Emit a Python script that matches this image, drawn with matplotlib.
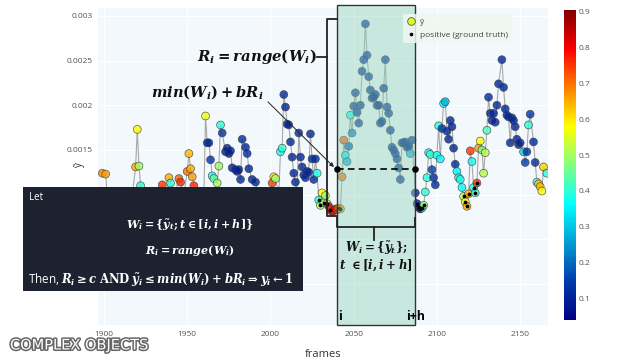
import numpy as np
import matplotlib
matplotlib.use("Agg")
import matplotlib.pyplot as plt
from matplotlib.colors import LinearSegmentedColormap, Normalize
from matplotlib.lines import Line2D
from matplotlib.patches import Rectangle
from matplotlib import patheffects as pe
import matplotlib.transforms as mtrans

# ---- data (y values in units of 1e-3) ----
frames = [1899, 1901, 1902, 1905, 1909, 1913, 1917, 1919, 1920, 1921, 1922, 1924, 1927, 1930, 1933,
          1935, 1937, 1939, 1940, 1942, 1945, 1946, 1948, 1950, 1951, 1952, 1953, 1954, 1956, 1959,
          1960, 1961, 1962, 1963, 1964, 1965, 1966, 1968, 1969, 1970, 1971, 1973, 1974, 1975, 1976,
          1977, 1979, 1980, 1981, 1982, 1983, 1985, 1986, 1987, 1989, 1991, 1993, 1996, 1999, 2001,
          2002, 2003, 2005, 2006, 2007, 2008, 2009, 2010, 2011, 2012, 2013, 2014, 2015, 2016, 2017,
          2018, 2019, 2020, 2021, 2022, 2023, 2024, 2025, 2026, 2027, 2028, 2029, 2030, 2031, 2032,
          2033, 2034, 2035, 2036, 2037, 2038, 2039, 2040, 2041, 2042, 2043, 2044, 2045, 2046, 2047,
          2048, 2049, 2050, 2051, 2052, 2053, 2054, 2055, 2056, 2057, 2058, 2059, 2060, 2061, 2062,
          2063, 2064, 2065, 2066, 2067, 2068, 2069, 2070, 2071, 2072, 2073, 2074, 2075, 2076, 2077,
          2078, 2079, 2080, 2081, 2082, 2083, 2084, 2085, 2087, 2088, 2089, 2090, 2091, 2092, 2093,
          2094, 2095, 2096, 2097, 2098, 2099, 2100, 2101, 2102, 2103, 2104, 2105, 2106, 2107, 2108,
          2109, 2110, 2111, 2112, 2113, 2114, 2115, 2116, 2117, 2118, 2119, 2120, 2121, 2122, 2123,
          2124, 2125, 2126, 2127, 2128, 2129, 2130, 2131, 2132, 2133, 2134, 2135, 2136, 2137, 2139,
          2140, 2141, 2142, 2143, 2144, 2145, 2146, 2147, 2148, 2149, 2150, 2152, 2153, 2154, 2155,
          2156, 2158, 2159, 2160, 2161, 2162, 2163, 2164, 2166]

y_milli = [1.24, 1.23, 0.98, 0.93, 0.97, 0.95, 1.00, 1.31, 1.73, 1.32, 1.10, 0.95, 0.92, 0.98, 1.00,
           1.11, 0.99, 1.19, 1.13, 0.97, 1.18, 1.14, 1.00, 1.26, 1.46, 1.29, 1.20, 1.10, 0.95, 0.98,
           0.98, 1.88, 1.58, 1.58, 1.39, 1.21, 1.18, 1.13, 1.32, 1.78, 1.69, 1.48, 1.52, 1.46, 1.49,
           1.30, 1.28, 1.26, 1.28, 1.17, 1.62, 1.53, 1.46, 1.29, 1.17, 1.14, 1.00, 1.02, 0.98, 1.13,
           1.20, 1.18, 1.00, 1.48, 1.52, 2.12, 1.98, 1.79, 1.78, 1.59, 1.42, 1.24, 1.14, 1.00, 1.69,
           1.42, 1.31, 1.22, 1.19, 1.26, 1.25, 1.68, 1.40, 1.17, 1.40, 1.24, 0.94, 0.88, 1.02, 0.91,
           0.99, 0.90, 0.87, 0.83, 0.81, 0.82, 0.84, 0.83, 0.85, 0.84, 1.20, 1.61, 1.44, 1.37, 1.54,
           1.89, 1.69, 1.99, 2.14, 1.92, 1.80, 2.00, 2.38, 2.51, 2.91, 2.56, 2.32, 2.17, 2.08, 2.09,
           2.12, 2.00, 2.00, 1.80, 1.82, 2.19, 2.51, 1.98, 1.91, 1.72, 1.53, 1.50, 1.46, 1.40, 1.30,
           1.17, 1.58, 1.58, 1.59, 1.53, 1.54, 1.46, 1.61, 1.02, 0.90, 0.86, 0.84, 0.85, 0.88, 1.03,
           1.19, 1.47, 1.45, 1.28, 1.19, 1.11, 1.44, 1.77, 1.40, 1.74, 2.02, 2.04, 1.71, 1.62, 1.83,
           1.76, 1.52, 1.34, 1.26, 1.19, 1.17, 1.08, 0.98, 0.92, 0.87, 1.01, 1.49, 1.37, 1.08, 1.02,
           1.13, 1.52, 1.60, 1.50, 1.24, 1.47, 1.72, 2.09, 1.91, 1.83, 1.91, 1.81, 2.00, 2.24, 2.51,
           2.20, 1.96, 1.89, 1.87, 1.58, 1.86, 1.83, 1.76, 1.62, 1.56, 1.58, 1.48, 1.36, 1.48, 1.78,
           1.90, 1.59, 1.36, 1.14, 1.12, 1.09, 1.04, 1.31, 1.24]

probs = [0.68, 0.66, 0.70, 0.72, 0.66, 0.70, 0.64, 0.65, 0.58, 0.50, 0.40, 0.45, 0.70, 0.68, 0.72,
         0.75, 0.70, 0.65, 0.40, 0.60, 0.72, 0.76, 0.70, 0.70, 0.64, 0.65, 0.66, 0.76, 0.70, 0.65,
         0.60, 0.57, 0.12, 0.12, 0.13, 0.38, 0.44, 0.50, 0.50, 0.40, 0.13, 0.10, 0.10, 0.09, 0.10,
         0.11, 0.10, 0.09, 0.10, 0.11, 0.12, 0.11, 0.12, 0.11, 0.11, 0.11, 0.12, 0.11, 0.12, 0.74,
         0.60, 0.50, 0.40, 0.38, 0.40, 0.12, 0.11, 0.10, 0.11, 0.11, 0.11, 0.11, 0.11, 0.11, 0.11,
         0.11, 0.11, 0.10, 0.11, 0.11, 0.11, 0.11, 0.12, 0.11, 0.12, 0.38, 0.38, 0.52, 0.58, 0.50,
         0.50, 0.50, 0.82, 0.75, 0.85, 0.78, 0.80, 0.76, 0.68, 0.66, 0.70, 0.72, 0.35, 0.28, 0.18,
         0.38, 0.22, 0.13, 0.13, 0.13, 0.13, 0.13, 0.13, 0.13, 0.13, 0.13, 0.13, 0.13, 0.13, 0.12,
         0.12, 0.13, 0.13, 0.13, 0.13, 0.13, 0.13, 0.13, 0.13, 0.13, 0.13, 0.13, 0.13, 0.12, 0.13,
         0.13, 0.12, 0.12, 0.13, 0.12, 0.12, 0.28, 0.13, 0.10, 0.07, 0.06, 0.06, 0.38, 0.48, 0.40,
         0.40, 0.38, 0.40, 0.15, 0.13, 0.12, 0.38, 0.38, 0.36, 0.13, 0.36, 0.28, 0.12, 0.11, 0.11,
         0.11, 0.11, 0.12, 0.36, 0.38, 0.38, 0.37, 0.52, 0.58, 0.65, 0.65, 0.75, 0.38, 0.38, 0.40,
         0.75, 0.66, 0.58, 0.46, 0.52, 0.52, 0.42, 0.12, 0.11, 0.11, 0.11, 0.11, 0.11, 0.11, 0.11,
         0.11, 0.11, 0.11, 0.11, 0.11, 0.11, 0.11, 0.11, 0.11, 0.11, 0.11, 0.32, 0.15, 0.13, 0.40,
         0.13, 0.12, 0.12, 0.40, 0.63, 0.64, 0.58, 0.62, 0.40]

positive_frames = [2029, 2030, 2032, 2034, 2036, 2041, 2042, 2088, 2089, 2090, 2091, 2092,
                   2116, 2117, 2118, 2119, 2122, 2123, 2124]

x_ticks = [1900, 1950, 2000, 2050, 2100, 2150]
y_ticks = [0, 0.0005, 0.001, 0.0015, 0.002, 0.0025, 0.003]
# the lower labels sit under the explanation box in the picture
y_tick_labels = ['', '', '', '0.0015', '0.002', '0.0025', '0.003']
cbar_ticks = [0.1, 0.2, 0.3, 0.4, 0.5, 0.6, 0.7, 0.8, 0.9]

win_start, win_end = 2040, 2087      # window [i, i+h]
threshold = 0.001287                  # min(W_i) + b R_i

# ---- style ----
plt.rcParams['font.family'] = ['Open Sans', 'DejaVu Sans']
plt.rcParams['mathtext.fontset'] = 'custom'
plt.rcParams['mathtext.it'] = 'DejaVu Serif:italic:bold'
plt.rcParams['mathtext.rm'] = 'DejaVu Serif:bold'
plt.rcParams['mathtext.bf'] = 'DejaVu Serif:bold'

# plotly-like jet
jet = LinearSegmentedColormap.from_list('pjet', [
    (0.0, (0, 0, 131 / 255)), (0.125, (0, 60 / 255, 170 / 255)),
    (0.375, (5 / 255, 1, 1)), (0.625, (1, 1, 0)),
    (0.875, (250 / 255, 0, 0)), (1.0, (128 / 255, 0, 0))])
norm = Normalize(0.04, 0.905)

frames = np.array(frames)
y_vals = np.array(y_milli) * 1e-3
probs = np.array(probs)
pos_mask = np.isin(frames, positive_frames)

fig = plt.figure(figsize=(6.4, 3.6), dpi=100)
ax = fig.add_axes([98 / 640, 1 - 325 / 360, 450 / 640, 317 / 360])
ax.set_facecolor('#f2f8fc')
for s in ax.spines.values():
    s.set_visible(False)

ax.plot(frames, y_vals, color='#a8a8a8', lw=0.8, zorder=2)
sc = ax.scatter(frames, y_vals, c=probs, cmap=jet, norm=norm, s=32,
                edgecolors='#3a3a3a', linewidths=0.5, alpha=0.8, zorder=3)
ax.scatter(frames[pos_mask], y_vals[pos_mask], s=3, color='black', zorder=4)

ax.set_xlim(1896.4, 2166.7)
ax.set_ylim(-0.000458, 0.003088)
ax.set_xticks(x_ticks)
ax.set_yticks(y_ticks)
ax.set_yticklabels(y_tick_labels)
ax.tick_params(length=0, labelsize=6, labelcolor='#555555', pad=4)
ax.grid(True, color='white', lw=0.8)
ax.set_axisbelow(True)
ax.set_xlabel('frames', fontsize=8, color='#333333', labelpad=8)
fig.text(79 / 640, 1 - 165 / 360, 'ỹ', rotation=90, fontsize=7, color='#333333',
         ha='center', va='center')

# window rectangle
blend = mtrans.blended_transform_factory(ax.transData, ax.transAxes)
ax.add_patch(Rectangle((win_start, 0), win_end - win_start, 1.01, transform=blend,
                       facecolor='#8fd3b8', alpha=0.42, edgecolor='none',
                       clip_on=False, zorder=5))
ax.add_patch(Rectangle((win_start, 0), win_end - win_start, 1.01, transform=blend,
                       facecolor='none', edgecolor='#333333', lw=1.0,
                       clip_on=False, zorder=6))

# range bracket (left)
ax.plot([2039.9, 2033.9, 2033.9, 2039.9], [0.002965, 0.002965, 0.000762, 0.000762],
        color='#222222', lw=1.3, clip_on=False, zorder=7)
ax.plot([2028.0, 2033.9], [0.00254, 0.00254], color='#222222', lw=1.3, zorder=7)
ax.text(2027.8, 0.00254, r'$R_i = range(W_i)$', fontsize=10.7, ha='right', va='center',
        color='#111111', zorder=8)
ax.text(1996.0, 0.00215, r'$min(W_i) + bR_i$', fontsize=10.5, ha='right', va='center',
        color='#111111', zorder=8)
ax.annotate('', xy=(2039.3, threshold), xytext=(1997.3, 0.00206),
            arrowprops=dict(arrowstyle='-|>', color='#222222', lw=0.7,
                            mutation_scale=6), zorder=8)

# threshold dashed line
ax.plot([win_start, win_end], [threshold, threshold], color='black', lw=1.2,
        ls=(0, (4, 2.5)), zorder=8)
ax.scatter([win_start - 0.3, win_end - 0.2], [threshold, threshold], s=14,
           color='black', zorder=9)

# window bracket (bottom)
ax.plot([win_start, win_start, win_end, win_end], [0.00074, 0.000639, 0.000639, 0.00074],
        color='#222222', lw=1.3, zorder=7)
ax.plot([2062.3, 2062.3], [0.000639, 0.000493], color='#222222', lw=1.3, zorder=7)
ax.text(2063.5, 0.000395, r'$W_i = \{\tilde{y}_t\};$', fontsize=8.5, ha='center',
        va='center', color='#111111', zorder=8)
ax.text(2063.5, 0.000215, r'$t\ \in [i, i+h]$', fontsize=8.5, ha='center',
        va='center', color='#111111', zorder=8)
ax.text(win_start + 0.8, -0.00036, 'i', fontsize=9, fontweight='bold', ha='left',
        va='center', color='black', zorder=8)
ax.text(win_end - 5.6, -0.00036, 'i+h', fontsize=9, fontweight='bold', ha='left',
        va='center', color='black', zorder=8)

leg = ax.legend(handles=[
    Line2D([], [], marker='o', ls='', markerfacecolor=jet(norm(0.55)),
           markeredgecolor='#555555', markeredgewidth=0.6, markersize=5.5),
    Line2D([], [], marker='o', ls='', color='black', markersize=1.6)],
    labels=['ỹ', 'positive (ground truth)'], loc='upper left',
    bbox_to_anchor=(0.668, 0.995), fontsize=6, labelcolor='#444444',
    frameon=True, handletextpad=0.6, borderpad=0.5, labelspacing=0.6,
    handlelength=1.0)
leg.get_frame().set_facecolor('#f0f7f2')
leg.get_frame().set_edgecolor('none')
leg.get_frame().set_alpha(0.85)
leg.set_zorder(10)

# colorbar
cax = fig.add_axes([564 / 640, 1 - 320 / 360, 12 / 640, 310 / 360])
cb = fig.colorbar(sc, cax=cax, ticks=cbar_ticks)
cb.outline.set_visible(False)
cb.solids.set_alpha(1)
cax.tick_params(length=0, labelsize=6, labelcolor='#555555', pad=2)

# explanation box
fig.add_artist(Rectangle((23 / 640, 1 - 291 / 360), 280 / 640, 104 / 360,
                         transform=fig.transFigure, facecolor='#1c2230',
                         edgecolor='none', zorder=20))
fig.text(29 / 640, 1 - 197 / 360, 'Let', fontsize=7, color='white', va='center',
         zorder=21)
fig.text(190 / 640, 1 - 225 / 360, r'$W_i = \{\tilde{y}_t; t \in [i, i+h]\}$',
         fontsize=8, color='white', ha='center', va='center', zorder=21)
fig.text(190 / 640, 1 - 250 / 360, r'$R_i = range(W_i)$', fontsize=8, color='white',
         ha='center', va='center', zorder=21)
fig.text(28 / 640, 1 - 280 / 360,
         r'Then, $R_i \geq c$ $\mathrm{AND}$ $\tilde{y}_i \leq min(W_i) + bR_i \Rightarrow y_i \leftarrow 1$',
         fontsize=8.4, color='white', ha='left', va='center', zorder=21)

# logo
fig.text(10 / 640, 1 - 345 / 360, 'COMPLEX OBJECTS', fontsize=10.5, color='white',
         ha='left', va='center', family='DejaVu Sans',
         path_effects=[pe.withStroke(linewidth=2.2, foreground='#666666')], zorder=21)

fig.savefig('out.png', dpi=100)
